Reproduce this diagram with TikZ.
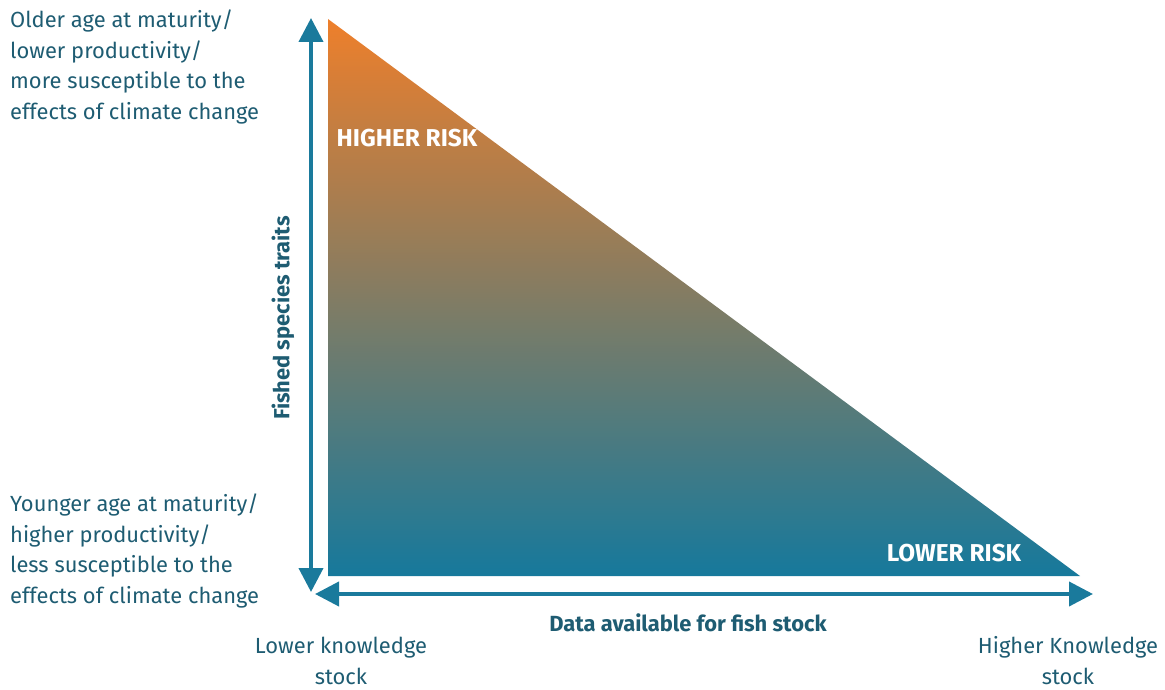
\documentclass[tikz,border=0pt]{standalone}
\usepackage{fontspec}
\setmainfont{Fira Sans}
\usetikzlibrary{arrows.meta}
\definecolor{arrowblue}{HTML}{1A7A9C}
\definecolor{txtblue}{HTML}{1E5C72}
\definecolor{riskorange}{HTML}{EE7F2B}
\definecolor{riskteal}{HTML}{16799C}
\tikzset{
  axis/.style={draw=arrowblue, line width=4bp, -{Triangle[width=24bp,length=24bp]}},
  lbl/.style={text=txtblue, font=\fontsize{22}{31}\selectfont, inner sep=0pt},
  axlbl/.style={text=txtblue, font=\fontsize{22}{28}\selectfont\bfseries, inner sep=0pt},
  risk/.style={text=white, font=\fontsize{24.5}{28}\selectfont\bfseries, inner sep=0pt},
}
\begin{document}
\begin{tikzpicture}[x=1bp,y=-1bp]
\useasboundingbox (0,0) rectangle (1165,690);
% risk triangle
\shade[top color=riskorange, bottom color=riskteal] (328,19) -- (328,576) -- (1080,576) -- cycle;
% axes
\coordinate (ytop) at (311,18);
\coordinate (yend) at (311,592);
\coordinate (xstart) at (315,594);
\coordinate (xend) at (1093,594);
\coordinate (ymid) at (311,300);
\coordinate (xmid) at (700,594);
\draw[axis] (ymid) -- (ytop);
\draw[axis] (ymid) -- (yend);
\draw[axis] (xmid) -- (xstart);
\draw[axis] (xmid) -- (xend);
% labels
\node[risk] (hr) at (407,138) {HIGHER RISK};
\node[risk] (lr) at (954,553) {LOWER RISK};
\node[axlbl, rotate=90] (yl) at (283,318) {Fished species traits};
\node[axlbl] (xl) at (688,623) {Data available for fish stock};
\node[lbl, anchor=west, align=left] (top) at (10,67) {Older age at maturity/\\lower productivity/\\more susceptible to the\\effects of climate change};
\node[lbl, anchor=west, align=left] (bot) at (10,551) {Younger age at maturity/\\higher productivity/\\less susceptible to the\\effects of climate change};
\node[lbl, align=center] (lk) at (341,661) {Lower knowledge\\stock};
\node[lbl, align=center] (hk) at (1068,661) {Higher Knowledge\\stock};
\end{tikzpicture}
\end{document}
